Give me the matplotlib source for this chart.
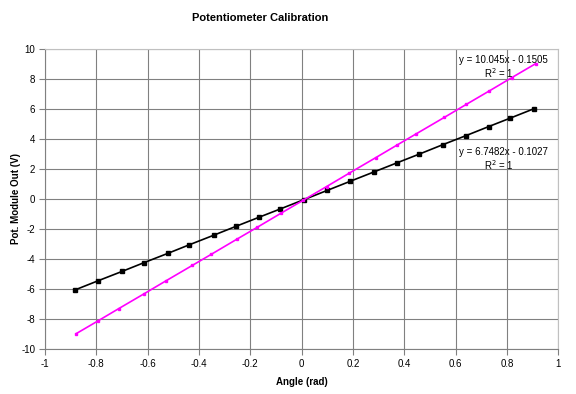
import matplotlib
matplotlib.use('Agg')
import matplotlib.pyplot as plt

plt.rcParams['font.family'] = ['Liberation Sans', 'DejaVu Sans']
plt.rcParams['axes.unicode_minus'] = False

# black series (6.7482x - 0.1027)
angle_a = [-0.883, -0.793, -0.700, -0.615, -0.522, -0.440, -0.340, -0.255, -0.166, -0.085, 0.010,
           0.100, 0.190, 0.282, 0.371, 0.459, 0.551, 0.641, 0.729, 0.814, 0.904]
volts_a = [-6.06, -5.45, -4.83, -4.25, -3.63, -3.07, -2.40, -1.82, -1.22, -0.68, -0.04,
           0.57, 1.18, 1.80, 2.40, 2.99, 3.62, 4.22, 4.82, 5.39, 6.00]

# magenta series (10.045x - 0.1505)
angle_b = [-0.879, -0.794, -0.712, -0.613, -0.529, -0.426, -0.352, -0.252, -0.173, -0.081, 0.005,
           0.098, 0.186, 0.290, 0.373, 0.448, 0.556, 0.642, 0.732, 0.819, 0.913]
volts_b = [-8.98, -8.13, -7.30, -6.31, -5.46, -4.43, -3.69, -2.68, -1.89, -0.96, -0.10,
           0.83, 1.72, 2.76, 3.60, 4.35, 5.43, 6.30, 7.20, 8.08, 9.02]

xticks = [-1, -0.8, -0.6, -0.4, -0.2, 0, 0.2, 0.4, 0.6, 0.8, 1]
xlabels = ['-1', '-0.8', '-0.6', '-0.4', '-0.2', '0', '0.2', '0.4', '0.6', '0.8', '1']
yticks = list(range(-10, 11, 2))

fig = plt.figure(figsize=(5.76, 3.94), dpi=100)
ax = fig.add_axes([0.078, 0.114, 0.891, 0.762])

ax.plot(angle_a, volts_a, color='black', lw=1.2, marker='s', ms=2.5, zorder=3)
ax.plot(angle_b, volts_b, color='#ff00ff', lw=1.2, marker='s', ms=1.8, zorder=3)

ax.set_xlim(-1, 1)
ax.set_ylim(-10, 10)
ax.set_xticks(xticks)
ax.set_xticklabels(xlabels)
ax.set_yticks(yticks)
ax.grid(True, color='#808080', lw=0.8)
ax.set_axisbelow(True)
for s in ['top', 'right']:
    ax.spines[s].set_color('#c0c0c0')
for s in ['left', 'bottom']:
    ax.spines[s].set_color('#808080')
ax.tick_params(direction='out', length=4, color='#808080', labelsize=7, pad=3)

ax.text(0.785, 9.25, 'y = 10.045x - 0.1505', fontsize=7, ha='center', va='center')
ax.text(0.77, 8.4, 'R$^2$ = 1', fontsize=7, ha='center', va='center')
ax.text(0.785, 3.1, 'y = 6.7482x - 0.1027', fontsize=7, ha='center', va='center')
ax.text(0.77, 2.25, 'R$^2$ = 1', fontsize=7, ha='center', va='center')

ax.set_xlabel('Angle (rad)', fontsize=7, fontweight='bold', labelpad=6)
ax.set_ylabel('Pot. Module Out (V)', fontsize=7, fontweight='bold', labelpad=0)
fig.text(0.452, 0.955, 'Potentiometer Calibration', fontsize=8, fontweight='bold',
         ha='center', va='center')

fig.savefig('out.png', dpi=100)
